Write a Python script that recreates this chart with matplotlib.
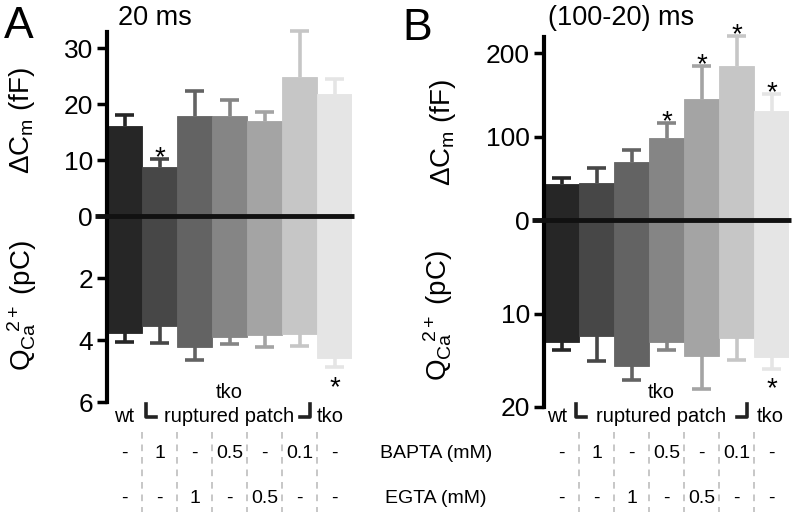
import numpy as np
import matplotlib
matplotlib.use("Agg")
import matplotlib.pyplot as plt
from matplotlib.transforms import blended_transform_factory

plt.rcParams["font.family"] = ["Liberation Sans", "DejaVu Sans"]
plt.rcParams["mathtext.fontset"] = "custom"
plt.rcParams["mathtext.rm"] = "Liberation Sans"
plt.rcParams["mathtext.it"] = "Liberation Sans:italic"
plt.rcParams["mathtext.bf"] = "Liberation Sans:bold"

# ── data ──────────────────────────────────────────────────────────────────────
bar_colors = ["#262626", "#474747", "#636363", "#858585", "#a4a4a4", "#c6c6c6", "#e5e5e5"]
bapta = ["-", "1", "-", "0.5", "-", "0.1", "-"]
egta = ["-", "-", "1", "-", "0.5", "-", "-"]

# panel A: 20 ms
dcm_a = [16.1, 8.8, 17.9, 17.9, 17.0, 24.9, 21.7]
dcm_a_err = [1.9, 1.3, 4.5, 2.8, 1.5, 8.1, 2.7]
q_a = [3.78, 3.55, 4.22, 3.91, 3.84, 3.81, 4.59]
q_a_err = [0.27, 0.54, 0.43, 0.22, 0.38, 0.38, 0.29]
sig_dcm_a = [0, 1, 0, 0, 0, 0, 0]
sig_q_a = [0, 0, 0, 0, 0, 0, 1]

# panel B: (100-20) ms
dcm_b = [43, 44, 70, 98, 145, 185, 131]
dcm_b_err = [8, 18, 14, 18, 40, 36, 20]
q_b = [13.0, 12.4, 15.6, 13.0, 14.5, 12.6, 14.6]
q_b_err = [0.9, 2.7, 1.5, 0.9, 3.6, 2.4, 1.3]
sig_dcm_b = [0, 0, 0, 1, 1, 1, 1]
sig_q_b = [0, 0, 0, 0, 0, 0, 1]

# ── layout helpers (pixel coords, origin top-left) ────────────────────────────
W, H = 792, 512
def fx(px):
    return px / W
def fy(py):
    return 1 - py / H

fig = plt.figure(figsize=(W / 100, H / 100), dpi=100)


def style(ax, ticks):
    ax.set_facecolor("none")
    for s in ["top", "right", "bottom"]:
        ax.spines[s].set_visible(False)
    ax.spines["left"].set_linewidth(3)
    ax.set_xticks([])
    ax.set_yticks(ticks)
    ax.tick_params(axis="y", direction="out", length=7, width=2.5,
                   labelsize=19, pad=3)
    ax.set_xlim(-0.5, 6.5)


def bars(ax, means, errs, sig, star_dy):
    x = np.arange(len(means))
    ax.bar(x, means, width=1.0, color=bar_colors, edgecolor=bar_colors,
           linewidth=0.6, zorder=2)
    tops = np.array(means) + np.array(errs)
    # one-sided error bars: stem + single cap
    ax.vlines(x, means, tops, colors=bar_colors, lw=2.6, zorder=3)
    ax.scatter(x, tops, marker="_", s=180, linewidths=2.6, c=bar_colors, zorder=3)
    for i in x:
        if sig[i]:
            ax.annotate("*", xy=(i, tops[i]), xytext=(0, star_dy),
                        textcoords="offset pixels", ha="center", va="center",
                        fontsize=20, annotation_clip=False)


def panel(left, top, zero, bottom, top_max, bot_max, top_ticks, bot_ticks,
          dcm, dcm_err, sig_dcm, q, q_err, sig_q):
    ax_b = fig.add_axes([fx(left), fy(bottom), fx(245), (bottom - zero) / H])
    ax_t = fig.add_axes([fx(left), fy(zero), fx(245), (zero - top) / H])
    ax_t.set_zorder(3)
    style(ax_t, top_ticks)
    style(ax_b, bot_ticks)
    ax_t.set_ylim(0, top_max)
    ax_b.set_ylim(bot_max, 0)
    bars(ax_t, dcm, dcm_err, sig_dcm, 1)
    bars(ax_b, q, q_err, sig_q, -21)
    for a in (ax_t, ax_b):
        for c in a.collections:
            c.set_clip_on(False)
    zt = blended_transform_factory(ax_t.transAxes, ax_t.transData)
    ax_t.plot([-0.05, 1.01], [0, 0], transform=zt, color="#111111", lw=3.5,
              clip_on=False, solid_capstyle="butt", zorder=6)
    return ax_t, ax_b


def labels_below(ax, wt_x, lb_x, rp_x, rb_x, tko_x):
    tr = blended_transform_factory(ax.transData, fig.transFigure)
    ax.text(wt_x, fy(422), "wt", transform=tr, ha="center", va="baseline", fontsize=14.5)
    ax.text(rp_x, fy(422), "ruptured patch", transform=tr, ha="center", va="baseline", fontsize=14.5)
    ax.text(rp_x, fy(398), "tko", transform=tr, ha="center", va="baseline", fontsize=14.5)
    ax.text(tko_x, fy(422), "tko", transform=tr, ha="center", va="baseline", fontsize=14.5)
    ax.plot([lb_x, lb_x, lb_x + 0.28], [fy(404), fy(417), fy(417)], transform=tr,
            color="#222222", lw=2.6, clip_on=False)
    ax.plot([rb_x - 0.28, rb_x, rb_x], [fy(417), fy(417), fy(404)], transform=tr,
            color="#222222", lw=2.6, clip_on=False)
    for j in range(len(bapta)):
        ax.text(j, fy(458), bapta[j], transform=tr, ha="center", va="baseline", fontsize=14)
        ax.text(j, fy(503), egta[j], transform=tr, ha="center", va="baseline", fontsize=14)
    for b in np.arange(0.5, len(bapta) - 1, 1.0):
        ax.plot([b, b], [fy(432), 0], transform=tr, color="#bdbdbd", lw=1.2,
                ls=(0, (4, 3.5)), clip_on=False)


# ── panel A ───────────────────────────────────────────────────────────────────
axA_t, axA_b = panel(107, 32, 216, 402, 32.86, 6, [0, 10, 20, 30], [2, 4, 6],
                     dcm_a, dcm_a_err, sig_dcm_a, q_a, q_a_err, sig_q_a)
labels_below(axA_b, 0.0, 0.62, 3.0, 5.3, 5.87)

# ── panel B ───────────────────────────────────────────────────────────────────
axB_t, axB_b = panel(544, 37, 220, 407, 219.7, 20, [0, 100, 200], [10, 20],
                     dcm_b, dcm_b_err, sig_dcm_b, q_b, q_b_err, sig_q_b)
labels_below(axB_b, -0.13, 0.42, 2.85, 5.3, 5.96)

# ── text ──────────────────────────────────────────────────────────────────────
dc_label = r"ΔC$_\mathrm{m}$ (fF)"
q_label = r"Q$_\mathrm{Ca}$$^{\!\!\!\mathrm{2+}}$ (pC)"
fig.text(fx(22), fy(120), dc_label, rotation=90, ha="center", va="center", fontsize=20)
fig.text(fx(22), fy(305), q_label, rotation=90, ha="center", va="center", fontsize=20)
fig.text(fx(443), fy(132), dc_label, rotation=90, ha="center", va="center", fontsize=20)
fig.text(fx(438), fy(315), q_label, rotation=90, ha="center", va="center", fontsize=20)

fig.text(fx(155), fy(18), "20 ms", ha="center", va="center", fontsize=19.5)
fig.text(fx(621), fy(18), "(100-20) ms", ha="center", va="center", fontsize=19.5)
fig.text(fx(19), fy(27), "A", ha="center", va="center", fontsize=32)
fig.text(fx(417), fy(29), "B", ha="center", va="center", fontsize=32)

fig.text(fx(436), fy(458), "BAPTA (mM)", ha="center", va="baseline", fontsize=14)
fig.text(fx(436), fy(503), "EGTA (mM)", ha="center", va="baseline", fontsize=14)

fig.savefig("out.png", dpi=100)
